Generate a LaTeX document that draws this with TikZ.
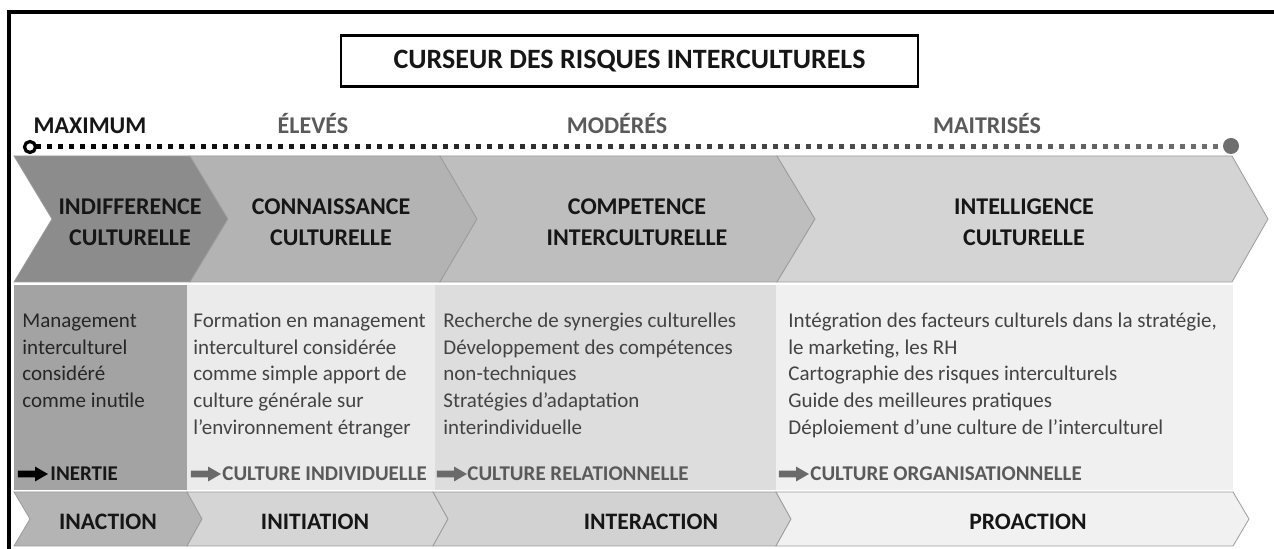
\documentclass[tikz,border=0pt]{standalone}
\usepackage{fontspec}
\setmainfont{Carlito}
\usetikzlibrary{shapes.arrows}

\definecolor{chevA}{HTML}{8C8C8C}
\definecolor{chevB}{HTML}{B3B3B3}
\definecolor{chevC}{HTML}{BEBEBE}
\definecolor{chevD}{HTML}{D4D4D4}
\definecolor{colA}{HTML}{A3A3A3}
\definecolor{colB}{HTML}{EBEBEB}
\definecolor{colC}{HTML}{DDDDDD}
\definecolor{colD}{HTML}{F0F0F0}
\definecolor{botA}{HTML}{B4B4B4}
\definecolor{botB}{HTML}{D5D5D5}
\definecolor{botC}{HTML}{D2D2D2}
\definecolor{botD}{HTML}{F1F1F1}
\definecolor{edgegray}{HTML}{9C9C9C}
\definecolor{inkdark}{HTML}{161616}
\definecolor{inkbody}{HTML}{434343}
\definecolor{inkcolA}{HTML}{262626}
\definecolor{inklabel}{HTML}{5A5A5A}
\definecolor{arrowgray}{HTML}{6A6A6A}
\definecolor{scalegray}{HTML}{6E6E6E}

\begin{document}
\begin{tikzpicture}[x=0.5pt,y=-0.5pt,
  chev/.style={draw=edgegray, line width=0.4pt},
  chevtext/.style={align=center, inner sep=0, text=inkdark,
    font=\bfseries\fontsize{12}{15.5}\selectfont},
  bottext/.style={inner sep=0, text=inkdark, font=\bfseries\fontsize{11.8}{14}\selectfont},
  scalelab/.style={anchor=base, inner sep=0, text=inklabel, font=\bfseries\fontsize{12}{14}\selectfont},
  body/.style={anchor=north west, align=left, inner sep=0, text=inkbody,
    font=\fontsize{10.5}{13.35}\selectfont},
  outcome/.style={anchor=base west, inner sep=0, text=inklabel,
    font=\bfseries\fontsize{10.5}{12}\selectfont},
  blockarrow/.style={single arrow, fill=arrowgray, inner xsep=0, inner ysep=1.5pt,
    minimum height=15pt, single arrow head extend=2pt, single arrow tip angle=60}
]
\useasboundingbox (0,0) rectangle (1274,549);
\fill[white] (0,0) rectangle (1274,549);

% outer frame (top and left)
\draw[line width=2pt] (9,549) -- (9,12) -- (1274,12);

% title
\node[draw, line width=1.3pt, minimum width=288.5pt, minimum height=25.5pt,
  font=\bfseries\fontsize{14}{16}\selectfont, text=inkdark] (title) at (629.5,61)
  {CURSEUR DES RISQUES INTERCULTURELS};

% risk scale labels
\node[scalelab, text=inkdark] (lmax) at (90,134) {MAXIMUM};
\node[scalelab] (lelev) at (313,134) {ÉLEVÉS};
\node[scalelab] (lmod) at (617,134) {MODÉRÉS};
\node[scalelab] (lmai) at (987,134) {MAITRISÉS};

% dotted risk scale, dark at the left, grey at the right
\foreach \i in {0,...,107} {
  \pgfmathsetmacro\shadeval{100-100*\i/107}
  \fill[black!\shadeval!scalegray] ({38+11*\i-2.5},144.5) rectangle ++(5,5);
}
\node[circle, draw=black, line width=1.6pt, fill=white, inner sep=0,
  minimum size=5.5pt] (smin) at (30,147) {};
\node[circle, fill=scalegray, inner sep=0, minimum size=8pt] (smax) at (1231,146) {};

% upper chevrons
\fill[chevA] (14,156) -- (190,156) -- (228,219) -- (190,282) -- (14,282) -- (52,219) -- cycle;
\draw[chev] (14,156) -- (190,156) -- (228,219) -- (190,282) -- (14,282) -- (52,219) -- cycle;
\fill[chevB] (190,156) -- (440,156) -- (477,219) -- (440,282) -- (190,282) -- (228,219) -- cycle;
\draw[chev] (190,156) -- (440,156) -- (477,219) -- (440,282) -- (190,282) -- (228,219) -- cycle;
\fill[chevC] (440,156) -- (777,156) -- (815,219) -- (777,282) -- (440,282) -- (477,219) -- cycle;
\draw[chev] (440,156) -- (777,156) -- (815,219) -- (777,282) -- (440,282) -- (477,219) -- cycle;
\fill[chevD] (777,156) -- (1232,156) -- (1268,219) -- (1232,282) -- (777,282) -- (815,219) -- cycle;
\draw[chev] (777,156) -- (1232,156) -- (1268,219) -- (1232,282) -- (777,282) -- (815,219) -- cycle;

\node[chevtext] (indiff) at (130,222.5) {INDIFFERENCE\\CULTURELLE};
\node[chevtext] (connais) at (331,222.5) {CONNAISSANCE\\CULTURELLE};
\node[chevtext] (compet) at (637,222.5) {COMPETENCE\\INTERCULTURELLE};
\node[chevtext] (intell) at (1024,222.5) {INTELLIGENCE\\CULTURELLE};

% description columns
\fill[colA] (14,285) rectangle (187,490);
\fill[colB] (187,285) rectangle (435,490);
\fill[colC] (435,285) rectangle (776,490);
\fill[colD] (776,285) rectangle (1233,490);

\node[body, text=inkcolA] (descA) at (22,311)
  {\rule{0pt}{8pt}Management\\interculturel\\considéré\\comme inutile};
\node[body] (descB) at (193,311)
  {\rule{0pt}{8pt}Formation en management\\interculturel considérée\\comme simple apport de\\culture générale sur\\l’environnement étranger};
\node[body] (descC) at (443,311)
  {\rule{0pt}{8pt}Recherche de synergies culturelles\\Développement des compétences\\non-techniques\\Stratégies d’adaptation\\interindividuelle};
\node[body] (descD) at (788,311)
  {\rule{0pt}{8pt}Intégration des facteurs culturels dans la stratégie,\\le marketing, les RH\\Cartographie des risques interculturels\\Guide des meilleures pratiques\\Déploiement d’une culture de l’interculturel};

% outcomes
\node[blockarrow, fill=black] (arrA) at (30,474) {};
\node[outcome, text=inkdark] (outA) at (50,481) {INERTIE};
\node[blockarrow] (arrB) at (203,474) {};
\node[outcome] (outB) at (222,481) {CULTURE INDIVIDUELLE};
\node[blockarrow] (arrC) at (449,474) {};
\node[outcome] (outC) at (467,481) {CULTURE RELATIONNELLE};
\node[blockarrow] (arrD) at (791,474) {};
\node[outcome] (outD) at (810,481) {CULTURE ORGANISATIONNELLE};

% lower chevrons
\fill[botA] (14,492) -- (187,492) -- (202,519) -- (187,546) -- (14,546) -- (30,519) -- cycle;
\draw[chev] (14,492) -- (187,492) -- (202,519) -- (187,546) -- (14,546) -- (30,519) -- cycle;
\fill[botB] (187,492) -- (433,492) -- (448,519) -- (433,546) -- (187,546) -- (202,519) -- cycle;
\draw[chev] (187,492) -- (433,492) -- (448,519) -- (433,546) -- (187,546) -- (202,519) -- cycle;
\fill[botC] (433,492) -- (776,492) -- (791,519) -- (776,546) -- (433,546) -- (448,519) -- cycle;
\draw[chev] (433,492) -- (776,492) -- (791,519) -- (776,546) -- (433,546) -- (448,519) -- cycle;
\fill[botD] (776,492) -- (1233,492) -- (1249,519) -- (1233,546) -- (776,546) -- (791,519) -- cycle;
\draw[chev] (776,492) -- (1233,492) -- (1249,519) -- (1233,546) -- (776,546) -- (791,519) -- cycle;

\node[bottext] (inaction) at (108,522) {INACTION};
\node[bottext] (initiation) at (315,522) {INITIATION};
\node[bottext] (interaction) at (651,522) {INTERACTION};
\node[bottext] (proaction) at (1028,522) {PROACTION};
\end{tikzpicture}
\end{document}
